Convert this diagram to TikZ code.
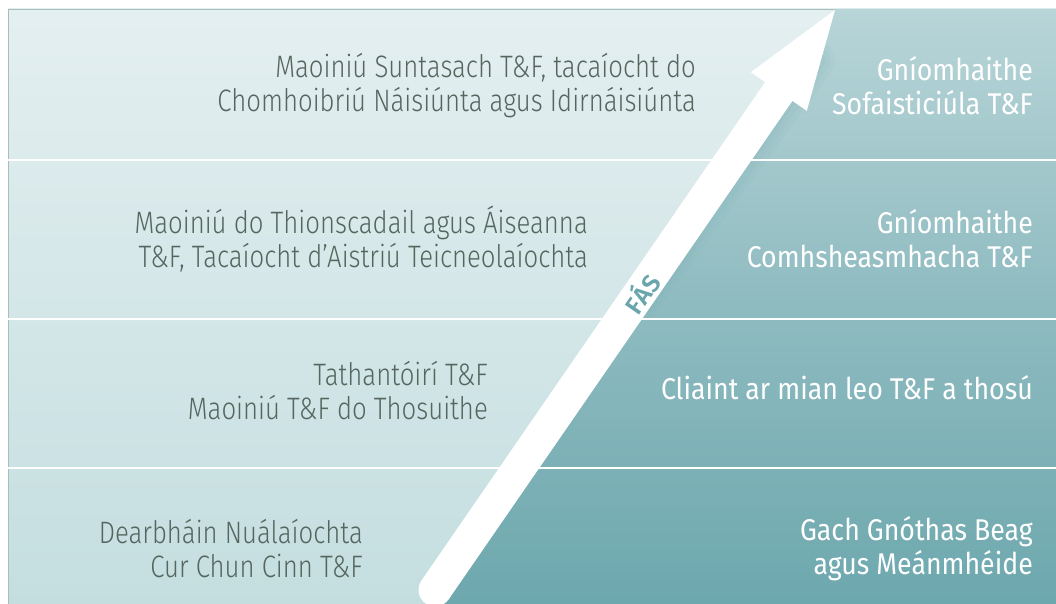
\documentclass[tikz,border=0pt]{standalone}
\usepackage{fontspec}
\setmainfont{Fira Sans}
\newfontfamily\lightfont{Fira Sans}[UprightFont=* Light, FakeStretch=0.83]
\newfontfamily\regfont{Fira Sans}[FakeStretch=0.89]
\newfontfamily\boldfont{Fira Sans}[UprightFont=* SemiBold, LetterSpace=4]
\definecolor{lighttop}{HTML}{E4EFF0}
\definecolor{lightbot}{HTML}{C4DEE0}
\definecolor{darktop}{HTML}{B8D5D8}
\definecolor{darkmid}{HTML}{8EBBC0}
\definecolor{darkbot}{HTML}{6DA8AE}
\definecolor{greytext}{HTML}{55665F}
\definecolor{fastext}{HTML}{6AA5AB}
\tikzset{
  lefttext/.style={anchor=east, align=right, inner sep=0pt, text=greytext,
    font=\lightfont\fontsize{31}{34}\selectfont},
  righttext/.style={anchor=east, align=right, inner sep=0pt, text=white,
    font=\regfont\fontsize{30}{34}\selectfont},
  divider/.style={draw=white, line width=2pt}
}
\begin{document}
\begin{tikzpicture}[x=1pt,y=-1pt]
\useasboundingbox (0,0) rectangle (1056,604);
% light panel
\shade[top color=lighttop, bottom color=lightbot] (8,9) rectangle (1056,604);
\draw[color=lightbot!85!black, line width=0.6pt] (8,604) -- (8,9) -- (1056,9);
% dark region (right of the arrow)
\coordinate (tip) at (835,10);
\coordinate (base) at (435,590);
\shade[top color=darktop, bottom color=darkbot, middle color=darkmid]
  (835,9) -- (425.3,604) -- (1056,604) -- (1056,9) -- cycle;
% soft shadow along the arrow
\begin{scope}
  \clip (835,9) -- (425.3,604) -- (1056,604) -- (1056,9) -- cycle;
  \foreach \w in {10,20,30,40}
    \draw[line width=\w pt, color=darkbot, opacity=0.07, line cap=round]
      (815,60) -- (640,300);
\end{scope}
% dividers
\draw[divider] (8,160) -- (1056,160);
\draw[divider] (8,319) -- (1056,319);
\draw[divider] (8,468) -- (1056,468);
% arrow
\fill[white] (base) circle[radius=16.5pt];
\fill[white] (421.4,580.6) -- (765.2,82.1) -- (750.8,72.2) -- (tip)
  -- (806.8,110.8) -- (792.4,100.9) -- (448.6,599.4) -- cycle;
\node[rotate=55.4, inner sep=0pt, text=fastext, font=\boldfont\fontsize{25}{25}\selectfont]
  (fas) at (641,293) {FÁS};
% texts
\node[lefttext] (l1) at (696,86) {Maoiniú Suntasach T\&F, tacaíocht do\\Chomhoibriú Náisiúnta agus Idirnáisiúnta};
\node[righttext] (r1) at (1033,86) {Gníomhaithe\\Sofaisticiúla T\&F};
\node[lefttext] (l2) at (588,239) {Maoiniú do Thionscadail agus Áiseanna\\T\&F, Tacaíocht d’Aistriú Teicneolaíochta};
\node[righttext] (r2) at (1033,239) {Gníomhaithe\\Comhsheasmhacha T\&F};
\node[lefttext] (l3) at (488,391) {Tathantóirí T\&F\\Maoiniú T\&F do Thosuithe};
\node[righttext] (r3) at (1033,388) {Cliaint ar mian leo T\&F a thosú};
\node[lefttext] (l4) at (363,549) {Dearbháin Nuálaíochta\\Cur Chun Cinn T\&F};
\node[righttext] (r4) at (1033,549) {Gach Gnóthas Beag\\agus Meánmhéide};
\end{tikzpicture}
\end{document}
